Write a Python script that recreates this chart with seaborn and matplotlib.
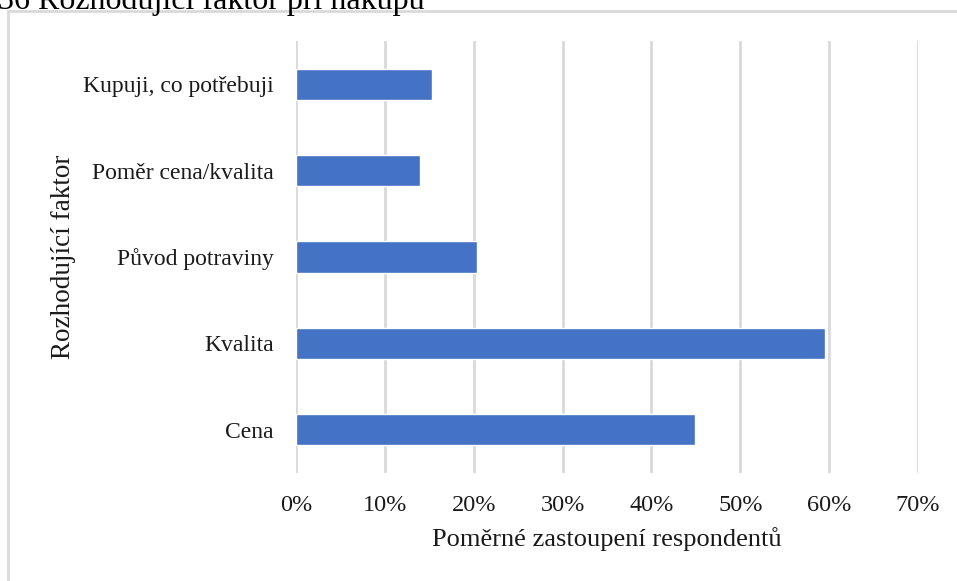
import matplotlib
matplotlib.use("Agg")
import matplotlib.pyplot as plt
from matplotlib.patches import Rectangle
from matplotlib.ticker import PercentFormatter
import seaborn as sns
import pandas as pd

# =============== Données ===============
faktory = ["Kupuji, co potřebuji", "Poměr cena/kvalita", "Původ potraviny", "Kvalita", "Cena"]
podily = [15.3, 13.9, 20.4, 59.5, 44.9]

df = pd.DataFrame({"faktor": faktory, "podil": podily})

sns.set_theme(style="white")
plt.rcParams["font.family"] = ["Liberation Serif", "DejaVu Serif"]

fig = plt.figure(figsize=(9.57, 5.81), dpi=100)
ax = fig.add_axes([296 / 957, 1 - 473 / 581, (918 - 296) / 957, (473 - 41) / 581])

# rámeček grafu (přesahuje obrázek vpravo a dole)
fig.patches.append(Rectangle((8 / 957, -0.1), 1.2, 1 - 11 / 581 + 0.1,
                             transform=fig.transFigure, fill=False,
                             edgecolor="#d9d9d9", linewidth=2, zorder=0))

sns.barplot(data=df, x="podil", y="faktor", orient="h", color="#4472C4",
            saturation=1, width=0.36, ax=ax, zorder=3)

ax.set_xlim(0, 70)
ax.set_xticks(range(0, 71, 10))
ax.xaxis.set_major_formatter(PercentFormatter(decimals=0))
ax.grid(axis="x", color="#d9d9d9", linewidth=2, zorder=0)
ax.set_axisbelow(True)
for s in ax.spines.values():
    s.set_visible(False)

ax.tick_params(axis="both", length=0, labelcolor="#1a1a1a")
ax.tick_params(axis="y", pad=16, labelsize=17)
ax.tick_params(axis="x", pad=16, labelsize=17.5)

ax.set_xlabel("Poměrné zastoupení respondentů", fontsize=19, color="#1a1a1a", labelpad=8)
ax.set_ylabel("Rozhodující faktor", fontsize=19.5, color="#1a1a1a", labelpad=5)

fig.text(-0.002, 1 - 9 / 581, "36 Rozhodující faktor při nákupu", fontsize=23,
         va="baseline", ha="left", color="black")

fig.savefig("out.png", dpi=100)
plt.close(fig)
